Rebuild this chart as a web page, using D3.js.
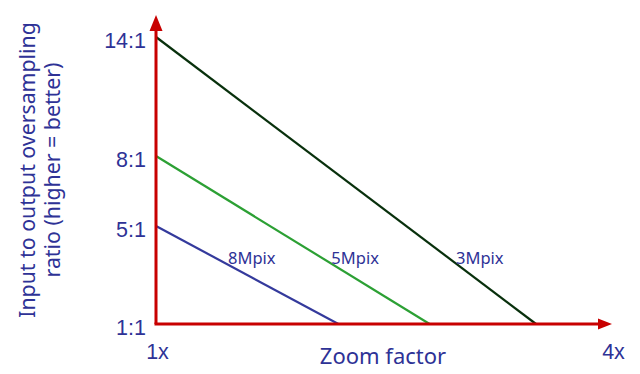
<!DOCTYPE html>
<html>
<head>
<meta charset="utf-8">
<script src="https://cdn.jsdelivr.net/npm/d3@7"></script>
<style>
	body { margin: 0; background: #fff; }
	svg { display: block; font-family: 'Noto Sans', sans-serif; }
	.tick text { fill: rgb(46,50,150); font-size: 21.5px; }
</style>
</head>
<body>
<svg id="chart" width="640" height="374"></svg>
<script>
// oversampling ratio at 1x, zoom where it drops to 1:1
var series = ['8Mpix', '5Mpix', '3Mpix'];
var startRatio = [5, 8, 14];
var endZoom = [2.2, 2.8, 3.5];
var colors = ['rgb(52,58,156)', 'rgb(44,160,52)', 'rgb(8,48,12)'];

var ratioTicks = [1, 5, 8, 14];
var ratioLabels = ['1:1', '5:1', '8:1', '14:1'];
var zoomTicks = [1, 4];
var zoomLabels = ['1x', '4x'];

var red = 'rgb(200,0,0)';
var navy = 'rgb(46,50,150)';

var svg = d3.select('#chart');

var x = d3.scaleLinear().domain([1, 4]).range([156, 612]);
// ticks are not evenly spaced in the original
var y = d3.scaleLinear().domain(ratioTicks).range([324, 226, 156, 37]);

// lines
series.forEach(function (s, k) {
	svg.append('line')
		.attr('x1', x(1))
		.attr('y1', y(startRatio[k]))
		.attr('x2', x(endZoom[k]))
		.attr('y2', y(1))
		.attr('stroke', colors[k])
		.attr('stroke-width', 2.2);
});

// labels on lines
var labelZoom = [1.63, 2.31, 3.13];
series.forEach(function (s, k) {
	svg.append('text')
		.attr('x', x(labelZoom[k]))
		.attr('y', 264)
		.attr('text-anchor', 'middle')
		.attr('fill', navy)
		.attr('font-size', 16.5)
		.text(s);
});

// axes lines with arrows
svg.append('line')
	.attr('x1', x(1)).attr('y1', y(1))
	.attr('x2', x(1)).attr('y2', 29)
	.attr('stroke', red).attr('stroke-width', 3);
svg.append('path')
	.attr('d', 'M' + (x(1) - 6.5) + ',31 L' + x(1) + ',15 L' + (x(1) + 6.5) + ',31 Z')
	.attr('fill', red);

svg.append('line')
	.attr('x1', x(1) - 1.5).attr('y1', y(1))
	.attr('x2', 600).attr('y2', y(1))
	.attr('stroke', red).attr('stroke-width', 3);
svg.append('path')
	.attr('d', 'M598,' + (y(1) - 5.5) + ' L' + x(4) + ',' + y(1) + ' L598,' + (y(1) + 5.5) + ' Z')
	.attr('fill', red);

// tick labels
var yAxis = d3.axisLeft(y)
	.tickValues(ratioTicks)
	.tickSize(0)
	.tickPadding(0)
	.tickFormat(function (d, i) { return ratioLabels[i]; });
var gy = svg.append('g')
	.attr('transform', 'translate(146,4)')
	.call(yAxis);
gy.select('.domain').remove();

var xAxis = d3.axisBottom(x)
	.tickValues(zoomTicks)
	.tickSize(0)
	.tickPadding(0)
	.tickFormat(function (d, i) { return zoomLabels[i]; });
var gx = svg.append('g')
	.attr('transform', 'translate(1,344)')
	.call(xAxis);
gx.select('.domain').remove();

// titles
svg.append('text')
	.attr('x', 383)
	.attr('y', 364)
	.attr('text-anchor', 'middle')
	.attr('fill', navy)
	.attr('font-size', 22)
	.text('Zoom factor');

var yt = svg.append('text')
	.attr('transform', 'translate(0,170) rotate(-90)')
	.attr('text-anchor', 'middle')
	.attr('fill', navy)
	.attr('font-size', 21.3);
yt.append('tspan').attr('x', 0).attr('y', 35).text('Input to output oversampling');
yt.append('tspan').attr('x', 0).attr('y', 60).text('ratio (higher = better)');
</script>
</body>
</html>
